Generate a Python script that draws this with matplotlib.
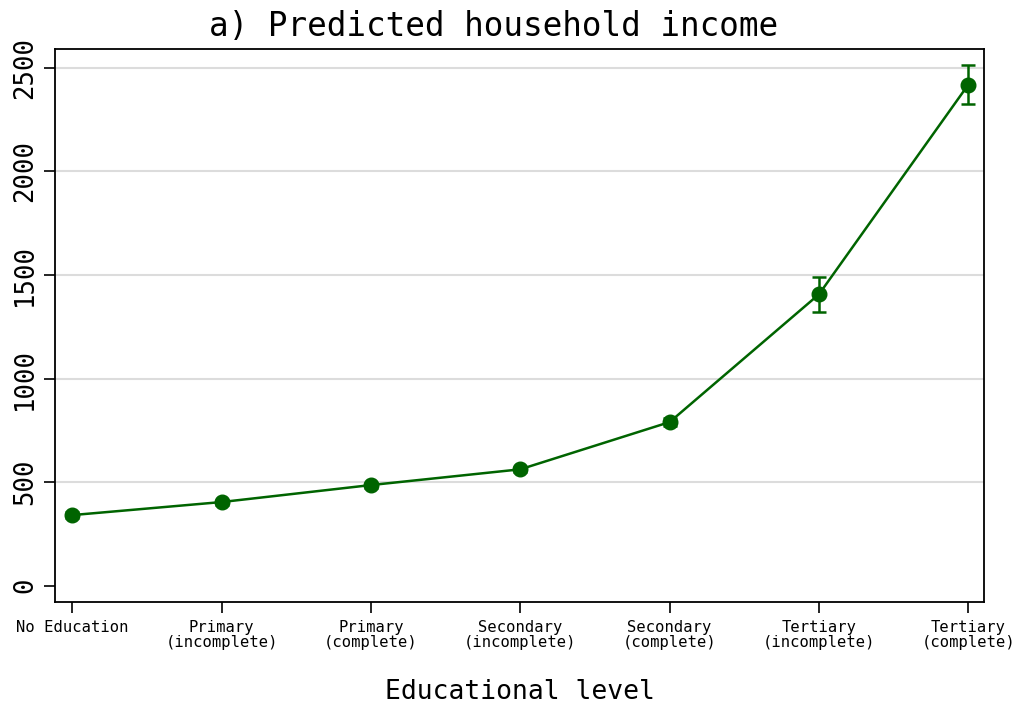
import matplotlib
matplotlib.use("Agg")
import matplotlib.pyplot as plt
import numpy as np

# Education categories and predicted household income with 95% CI
categories = ["No Education", "Primary\n(incomplete)", "Primary\n(complete)",
              "Secondary\n(incomplete)", "Secondary\n(complete)",
              "Tertiary\n(incomplete)", "Tertiary\n(complete)"]
income = [341, 404, 486, 562, 790, 1407, 2419]
ci_low = [326, 392, 474, 550, 772, 1320, 2324]
ci_high = [356, 416, 498, 574, 808, 1492, 2514]
yticks = [0, 500, 1000, 1500, 2000, 2500]

green = "#006400"
mono = ["DejaVu Sans Mono"]

fig = plt.figure(figsize=(10.16, 7.06), dpi=100)
ax = fig.add_axes([55 / 1016, 1 - 602.3 / 706, (984 - 55) / 1016, (602.3 - 49) / 706])

x = np.arange(len(categories))
inc = np.array(income)
yerr = np.vstack([inc - np.array(ci_low), np.array(ci_high) - inc])

ax.errorbar(x, inc, yerr=yerr, color=green, lw=1.8, elinewidth=1.8,
            capsize=4.8, capthick=1.8, marker="o", markersize=10.5,
            markeredgecolor=green, markerfacecolor=green, zorder=3)

ax.set_xlim(-0.116, 6.105)
ax.set_ylim(-80, 2591)

ax.set_yticks(yticks)
ax.set_yticklabels([str(v) for v in yticks], rotation=90, va="center",
                   fontsize=18.5, family=mono)
ax.set_xticks(x)
ax.set_xticklabels(categories, fontsize=11.2, family=mono, linespacing=0.95)

for v in yticks[1:]:
    ax.axhline(v, color="#dcdcdc", lw=1.5, zorder=1)

ax.tick_params(axis="both", direction="out", length=8, width=1.2, color="black")
ax.tick_params(axis="y", pad=4)
ax.tick_params(axis="x", pad=5)
for s in ax.spines.values():
    s.set_linewidth(1.3)

fig.text(494 / 1016, 1 - 27 / 706, "a) Predicted household income",
         fontsize=23.5, family=mono, ha="center", va="center")
ax.set_xlabel("Educational level", fontsize=19, family=mono, labelpad=21)

fig.savefig("out.png", dpi=100, facecolor="white")
